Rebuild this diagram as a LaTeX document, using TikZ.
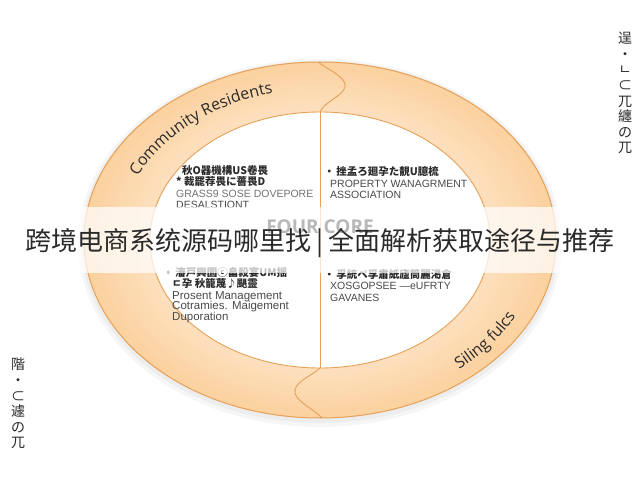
\documentclass[tikz,border=0pt]{standalone}
\usepackage{fontspec}
\usetikzlibrary{decorations.text}
\setmainfont{Liberation Sans}
\newfontfamily\cjk{Noto Sans CJK SC}
\newfontfamily\ringfont{Open Sans}
\definecolor{ringout}{HTML}{FBD2A0}
\definecolor{ringin}{HTML}{FDE1C0}
\definecolor{ringline}{HTML}{E6A057}
\definecolor{txtdark}{HTML}{2A2A2A}
\definecolor{txtgray}{HTML}{4A4A4A}
\tikzset{
  qcjk/.style={anchor=base west, inner sep=0pt, font=\cjk\bfseries\fontsize{10.5}{12}\selectfont, text=txtdark},
  qlat/.style={anchor=base west, inner sep=0pt, font=\fontsize{10.5}{12}\selectfont, text=txtgray},
  vert/.style={anchor=north, inner sep=0pt, align=center, font=\cjk\fontsize{14}{15.6}\selectfont, text=txtdark},
  divider/.style={draw=ringline, line width=0.9pt}
}
\begin{document}
\begin{tikzpicture}[x=1pt,y=1pt]
\useasboundingbox (0,0) rectangle (640,480);
\fill[white] (0,0) rectangle (640,480);
% soft shadow
\fill[black, opacity=0.035] (320,237) ellipse [x radius=242, y radius=184];
\fill[black, opacity=0.035] (320,238) ellipse [x radius=239, y radius=181];
% ring with gradient
\foreach \i in {0,...,10}{
  \pgfmathsetmacro{\rx}{236-\i*6.6}
  \pgfmathsetmacro{\ry}{178-\i*5}
  \pgfmathsetmacro{\pc}{\i*10}
  \fill[ringin!\pc!ringout] (320,240) ellipse [x radius=\rx, y radius=\ry];
}
\draw[ringline, line width=1pt] (320,240) ellipse [x radius=236, y radius=178];
\fill[white] (320,240) ellipse [x radius=170, y radius=128];
\draw[ringline, line width=0.9pt] (320,240) ellipse [x radius=170, y radius=128];
% dividers
\draw[divider] (318,418) .. controls (328,410) and (347,403) .. (345,393) .. controls (343,384) and (324,378) .. (320,368);
\draw[divider] (320,368) -- (320,112);
\draw[divider] (320,112) .. controls (312,104) and (293,98) .. (295,87) .. controls (297,78) and (315,70) .. (322,62);
% ring labels
\path[decorate, decoration={text along path, text align=center,
  text={|\ringfont\fontsize{16}{16}\selectfont\color{txtdark}|Community Residents}}]
  (320,240) ++(162:201 and 151) arc[start angle=162, end angle=98, x radius=201, y radius=151];
\path[decorate, decoration={text along path, text align=center,
  text={|\ringfont\fontsize{16}{16}\selectfont\color{txtdark}|Siling fulcs}}]
  (320,240) ++(-62:220 and 167) arc[start angle=-62, end angle=-14, x radius=220, y radius=167];
% quadrant texts
\node[qcjk] (tl1) at (182,305) {秋O器機構US卷畏};
\node[qcjk] (tl2) at (176,294) {* 裁罷荐畏に薔畏D};
\node[qlat, text=black!55] (tl3) at (176,282) {GRASS9 SOSE DOVEPORE};
\node[qlat] (tl4) at (176,271) {DESALSTIONT};
\node[qcjk] (tr1) at (324,304) {•\,挫孟ろ廻孕た靚U臆梳};
\node[qlat] (tr2) at (330,292) {PROPERTY WANAGRMENT};
\node[qlat] (tr3) at (330,281) {ASSOCIATION};
\node[qcjk] (bl1) at (163,204) {•\,瀋戸興圜ⓒ畠殺宴UM揺};
\node[qcjk] (bl2) at (172,193) {ㄷ孕 秋籠蔑♪颶靈};
\node[qlat, font=\fontsize{11.5}{12}\selectfont] (bl3) at (172,181) {Prosent Management};
\node[qlat, font=\fontsize{11.5}{12}\selectfont] (bl4) at (172,171) {Cotramies. Maigement};
\node[qlat, font=\fontsize{11.5}{12}\selectfont] (bl5) at (172,160) {Duporation};
\node[qcjk] (br1) at (324,202) {•\,孚統ペ孚肅紙廬筒麗渇倉};
\node[qlat] (br2) at (330,190) {XOSGOPSEE —eUFRTY};
\node[qlat] (br3) at (330,179) {GAVANES};
% banner
\fill[white, opacity=0.72] (0,207) rectangle (640,273);
\node[inner sep=0pt, font=\ringfont\bfseries\fontsize{19}{19}\selectfont, text=black!28] (core) at (320,253) {FOUR CORE};
\node[inner sep=0pt, font=\cjk\fontsize{26}{26}\selectfont, text=txtdark] (title) at (320,237) {跨境电商系统源码哪里找\hspace{5pt}|\hspace{5pt}全面解析获取途径与推荐};
% vertical side texts
\node[vert] (vr) at (625,448) {逞\\・\\ㄴ\\⊂\\兀\\纏\\の\\兀};
\node[vert] (vl) at (18,122) {階\\・\\⊂\\遽\\の\\兀};
\end{tikzpicture}
\end{document}
